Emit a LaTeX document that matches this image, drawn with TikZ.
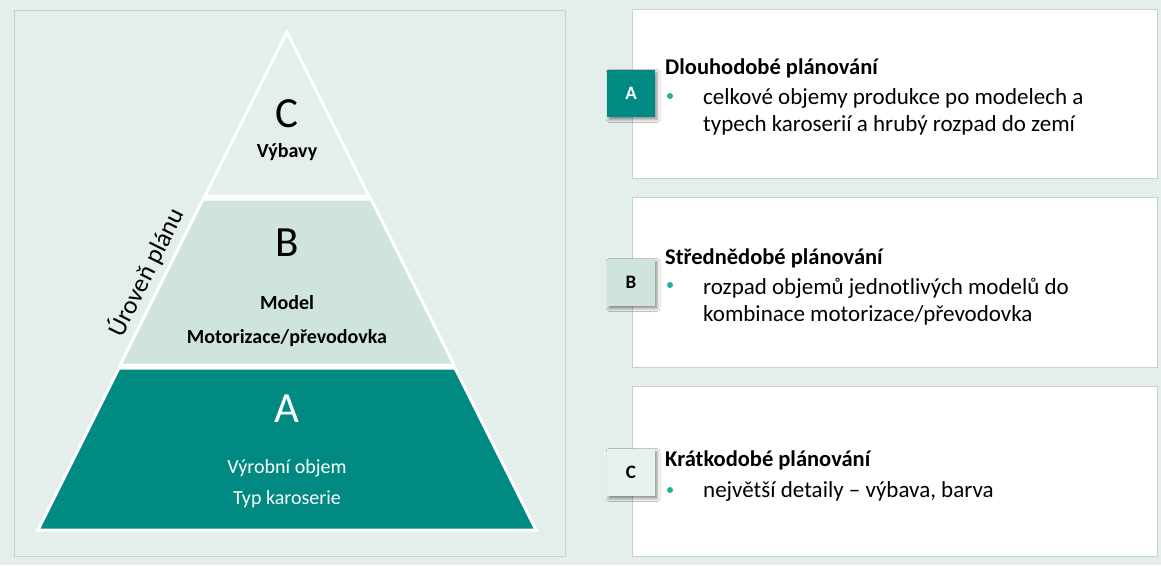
\documentclass[tikz,border=0pt]{standalone}
\usepackage{fontspec}
\setmainfont{Carlito}
\usetikzlibrary{shadows.blur}
\definecolor{bgc}{HTML}{E4EFEC}
\definecolor{panelline}{HTML}{C9D1CF}
\definecolor{teal}{HTML}{008A82}
\definecolor{mint}{HTML}{CFE4DE}
\definecolor{pale}{HTML}{E7F1EE}
\definecolor{dot}{HTML}{1FB39A}
\tikzset{
  big/.style={font=\fontsize{43}{46}\selectfont},
  lvl/.style={font=\bfseries\fontsize{20}{23}\selectfont},
  lvlw/.style={font=\fontsize{20}{23}\selectfont, text=white},
  card/.style={draw=panelline, line width=0.8pt, fill=white},
  tag/.style={minimum width=48pt, minimum height=47pt, inner sep=0pt,
    font=\bfseries\fontsize{19}{21}\selectfont,
    blur shadow={shadow xshift=2pt, shadow yshift=-3pt, shadow blur radius=3pt, shadow opacity=45}},
  head/.style={anchor=base west, inner sep=0pt, font=\bfseries\fontsize{22.5}{26}\selectfont},
  body/.style={anchor=base west, inner sep=0pt, font=\fontsize{23}{27}\selectfont},
  bul/.style={circle, fill=dot, inner sep=0pt, minimum size=6pt},
  tier/.style={draw=white, line width=3pt, line join=miter}
}
\begin{document}
\begin{tikzpicture}[x=1pt,y=-1pt]
\useasboundingbox (0,0) rectangle (1161,565);
\fill[bgc] (0,0) rectangle (1161,565);

% left panel
\draw[panelline, line width=0.8pt] (14,10) rectangle (565,556);

% pyramid tiers
\draw[tier] (287,32) -- (369,196) -- (205,196) -- cycle;
\draw[tier, fill=mint] (203,199) -- (371,199) -- (454,365) -- (120,365) -- cycle;
\draw[tier, fill=teal] (119,368) -- (455,368) -- (536,530) -- (38,530) -- cycle;

\node[big] (tc) at (287,114) {C};
\node[lvl] (tcl) at (287,152) {Výbavy};
\node[big] (tb) at (287,243) {B};
\node[lvl] (tbl1) at (287,303) {Model};
\node[lvl] (tbl2) at (287,338) {Motorizace/převodovka};
\node[big, text=white] (ta) at (287,409) {A};
\node[lvlw] (tal1) at (287,468) {Výrobní objem};
\node[lvlw] (tal2) at (287,499) {Typ karoserie};

\node[font=\fontsize{25.5}{28}\selectfont, rotate=63.5, inner sep=0pt] (axis) at (146,272) {Úroveň plánu};

% right cards
\draw[card] (632,9) rectangle (1157,178);
\draw[card] (632,197) rectangle (1157,367);
\draw[card] (632,386) rectangle (1157,556);

% card A
\node[tag, fill=teal, text=white] (ka) at (631,93) {A};
\node[head] (ha) at (665,74) {Dlouhodobé plánování};
\node[bul] (da) at (670,96) {};
\node[body] (ba1) at (703,104) {celkové objemy produkce po modelech a};
\node[body] (ba2) at (703,131) {typech karoserií a hrubý rozpad do zemí};

% card B
\node[tag, fill=mint] (kb) at (631,282) {B};
\node[head] (hb) at (665,264) {Střednědobé plánování};
\node[bul] (db) at (670,285) {};
\node[body] (bb1) at (703,294) {rozpad objemů jednotlivých modelů do};
\node[body] (bb2) at (703,321) {kombinace motorizace/převodovka};

% card C
\node[tag, fill=pale] (kc) at (631,472) {C};
\node[head] (hc) at (665,466) {Krátkodobé plánování};
\node[bul] (dc) at (670,490) {};
\node[body] (bc1) at (703,497) {největší detaily -- výbava, barva};
\end{tikzpicture}
\end{document}
